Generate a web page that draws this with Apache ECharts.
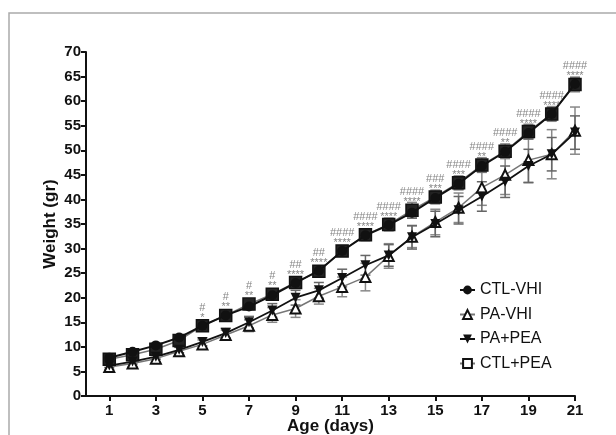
<!DOCTYPE html>
<html>
<head>
<meta charset="utf-8">
<script src="https://cdn.jsdelivr.net/npm/echarts@6/dist/echarts.min.js"></script>
<style>
  html, body { margin: 0; padding: 0; background: #fff; }
  #main { width: 616px; height: 435px; }
</style>
</head>
<body>
<div id="main"></div>
<script>
const days = [1,2,3,4,5,6,7,8,9,10,11,12,13,14,15,16,17,18,19,20,21]
const xTickDays = [1,3,5,7,9,11,13,15,17,19,21]

const ctlVhi = [7.8, 9.0, 10.3, 11.9, 14.3, 16.4, 18.2, 20.5, 23.0, 25.5, 29.5, 32.7, 34.8, 37.3, 40.3, 43.2, 46.8, 49.7, 53.5, 57.4, 63.5]
const ctlPea = [7.5, 8.4, 9.5, 11.3, 14.3, 16.4, 18.7, 20.7, 23.1, 25.4, 29.5, 32.8, 34.9, 37.8, 40.5, 43.4, 47.0, 49.8, 53.8, 57.4, 63.4]
const paPea = [6.2, 7.0, 8.0, 9.4, 11.0, 12.8, 15.0, 17.4, 20.0, 21.5, 24.0, 26.6, 28.6, 32.3, 35.0, 37.8, 40.6, 43.6, 46.8, 49.2, 53.6]
const paVhi = [5.9, 6.6, 7.6, 9.1, 10.5, 12.4, 14.3, 16.5, 17.8, 20.3, 22.2, 24.2, 28.5, 32.4, 35.4, 38.3, 42.4, 45.0, 48.0, 49.2, 54.0]

const ctlVhiErr = [0.4, 0.4, 0.4, 0.4, 0.5, 0.5, 0.6, 0.6, 0.7, 0.7, 0.8, 0.9, 1.0, 1.1, 1.1, 1.2, 1.2, 1.2, 1.2, 1.2, 1.2]
const ctlPeaErr = [0.5, 0.5, 0.6, 0.6, 0.7, 0.7, 0.8, 0.9, 0.9, 1.0, 1.0, 1.2, 1.3, 1.6, 1.4, 1.4, 1.5, 1.5, 1.5, 1.5, 1.5]
const paPeaErr = [0.4, 0.5, 0.5, 0.6, 0.8, 1.0, 1.2, 1.4, 1.5, 1.6, 1.8, 2.0, 2.2, 2.4, 2.6, 2.8, 3.0, 3.2, 3.4, 3.4, 3.4]
const paVhiErr = [0.5, 0.6, 0.7, 0.8, 0.9, 1.0, 1.2, 1.5, 1.8, 1.6, 2.0, 2.8, 2.5, 2.2, 2.6, 3.0, 3.6, 4.0, 4.5, 5.0, 4.8]

const hashLabels = ['', '', '', '', '#', '#', '#', '#', '##', '##', '####', '####', '####', '####', '###', '####', '####', '####', '####', '####', '####']
const starLabels = ['', '', '', '', '*', '**', '**', '**', '****', '****', '****', '****', '****', '****', '***', '***', '**', '**', '****', '****', '****']

const chart = echarts.init(document.getElementById('main'), null, { renderer: 'canvas' })
const font = '"Liberation Sans", Arial, sans-serif'

function pairs(vals) {
  return days.map((d, i) => [d, vals[i]])
}

function errorSeries(vals, errs, color, capW) {
  return {
    type: 'custom',
    silent: true,
    z: 1,
    data: days.map((d, i) => [d, vals[i] - errs[i], vals[i] + errs[i]]),
    renderItem: (params, api) => {
      const lo = api.coord([api.value(0), api.value(1)])
      const hi = api.coord([api.value(0), api.value(2)])
      const style = { stroke: color, lineWidth: 1.5 }
      return {
        type: 'group',
        children: [
          { type: 'line', shape: { x1: lo[0], y1: lo[1], x2: hi[0], y2: hi[1] }, style },
          { type: 'line', shape: { x1: lo[0] - capW, y1: lo[1], x2: lo[0] + capW, y2: lo[1] }, style },
          { type: 'line', shape: { x1: hi[0] - capW, y1: hi[1], x2: hi[0] + capW, y2: hi[1] }, style }
        ]
      }
    }
  }
}

const option = {
  animation: false,
  backgroundColor: '#fff',
  graphic: [{
    type: 'rect',
    shape: { x: 9, y: 13, width: 700, height: 500 },
    style: { fill: 'none', stroke: '#aaa', lineWidth: 1.5 },
    silent: true
  }],
  grid: { left: 86, right: 41, top: 52, bottom: 39, outerBoundsMode: 'none', containLabel: false },
  legend: {
    data: [
      { name: 'CTL-VHI' },
      { name: 'PA-VHI' },
      { name: 'PA+PEA' },
      { name: 'CTL+PEA', itemStyle: { color: '#fff', borderColor: '#111', borderWidth: 2 } }
    ],
    orient: 'vertical',
    left: 454,
    top: 277,
    itemGap: 8.5,
    itemWidth: 15,
    itemHeight: 11,
    textStyle: { fontFamily: font, fontSize: 16, color: '#111' }
  },
  xAxis: {
    type: 'value',
    min: 0,
    max: 21,
    name: 'Age (days)',
    nameLocation: 'middle',
    nameGap: 22,
    nameMoveOverlap: false,
    nameTextStyle: { fontFamily: font, fontSize: 17, fontWeight: 'bold', color: '#111' },
    splitLine: { show: false },
    axisLine: { lineStyle: { color: '#111', width: 2 } },
    axisTick: { customValues: xTickDays, length: 5, lineStyle: { color: '#111', width: 2 } },
    axisLabel: { customValues: xTickDays, fontFamily: font, fontSize: 15, fontWeight: 'bold', color: '#111', margin: 7 }
  },
  yAxis: {
    type: 'value',
    min: 0,
    max: 70,
    interval: 5,
    name: 'Weight (gr)',
    nameLocation: 'middle',
    nameGap: 27,
    nameMoveOverlap: false,
    nameTextStyle: { fontFamily: font, fontSize: 17, fontWeight: 'bold', color: '#111' },
    splitLine: { show: false },
    axisLine: { show: true, lineStyle: { color: '#111', width: 2 } },
    axisTick: { show: true, length: 5, lineStyle: { color: '#111', width: 2 } },
    axisLabel: { fontFamily: font, fontSize: 15, fontWeight: 'bold', color: '#111', margin: 5 }
  },
  series: [
    errorSeries(paVhi, paVhiErr, '#888', 5),
    errorSeries(paPea, paPeaErr, '#666', 5),
    errorSeries(ctlPea, ctlPeaErr, '#888', 5),
    errorSeries(ctlVhi, ctlVhiErr, '#666', 5),
    {
      name: 'PA-VHI',
      type: 'line',
      z: 3,
      data: pairs(paVhi),
      symbol: 'triangle',
      symbolSize: 10,
      color: '#111',
      lineStyle: { color: '#777', width: 1.5 },
      itemStyle: { color: '#fff', borderColor: '#111', borderWidth: 2 }
    },
    {
      name: 'PA+PEA',
      type: 'line',
      z: 4,
      data: pairs(paPea),
      symbol: 'triangle',
      symbolRotate: 180,
      symbolSize: 10,
      color: '#111',
      lineStyle: { color: '#111', width: 1.8 },
      itemStyle: { color: '#111' }
    },
    {
      name: 'CTL+PEA',
      type: 'line',
      z: 3,
      data: pairs(ctlPea),
      symbol: 'rect',
      symbolSize: 12,
      color: '#111',
      lineStyle: { color: '#777', width: 1.5 },
      itemStyle: { color: '#222', borderColor: '#111', borderWidth: 1.5 }
    },
    {
      name: 'CTL-VHI',
      type: 'line',
      z: 4,
      data: pairs(ctlVhi),
      symbol: 'circle',
      symbolSize: 10,
      color: '#111',
      lineStyle: { color: '#111', width: 2 },
      itemStyle: { color: '#111' }
    },
    {
      name: 'annot',
      type: 'scatter',
      z: 5,
      silent: true,
      symbolSize: 0,
      itemStyle: { color: 'rgba(0,0,0,0)' },
      data: pairs(days.map((d, i) => Math.max(ctlVhi[i], ctlPea[i]))),
      label: {
        show: true,
        position: 'top',
        distance: 3,
        fontFamily: font,
        fontSize: 11,
        lineHeight: 10,
        color: '#666',
        align: 'center',
        formatter: p => {
          const i = p.dataIndex
          if (!hashLabels[i] && !starLabels[i]) return ''
          return hashLabels[i] + '\n' + starLabels[i]
        }
      }
    }
  ]
}

chart.setOption(option)
</script>
</body>
</html>
